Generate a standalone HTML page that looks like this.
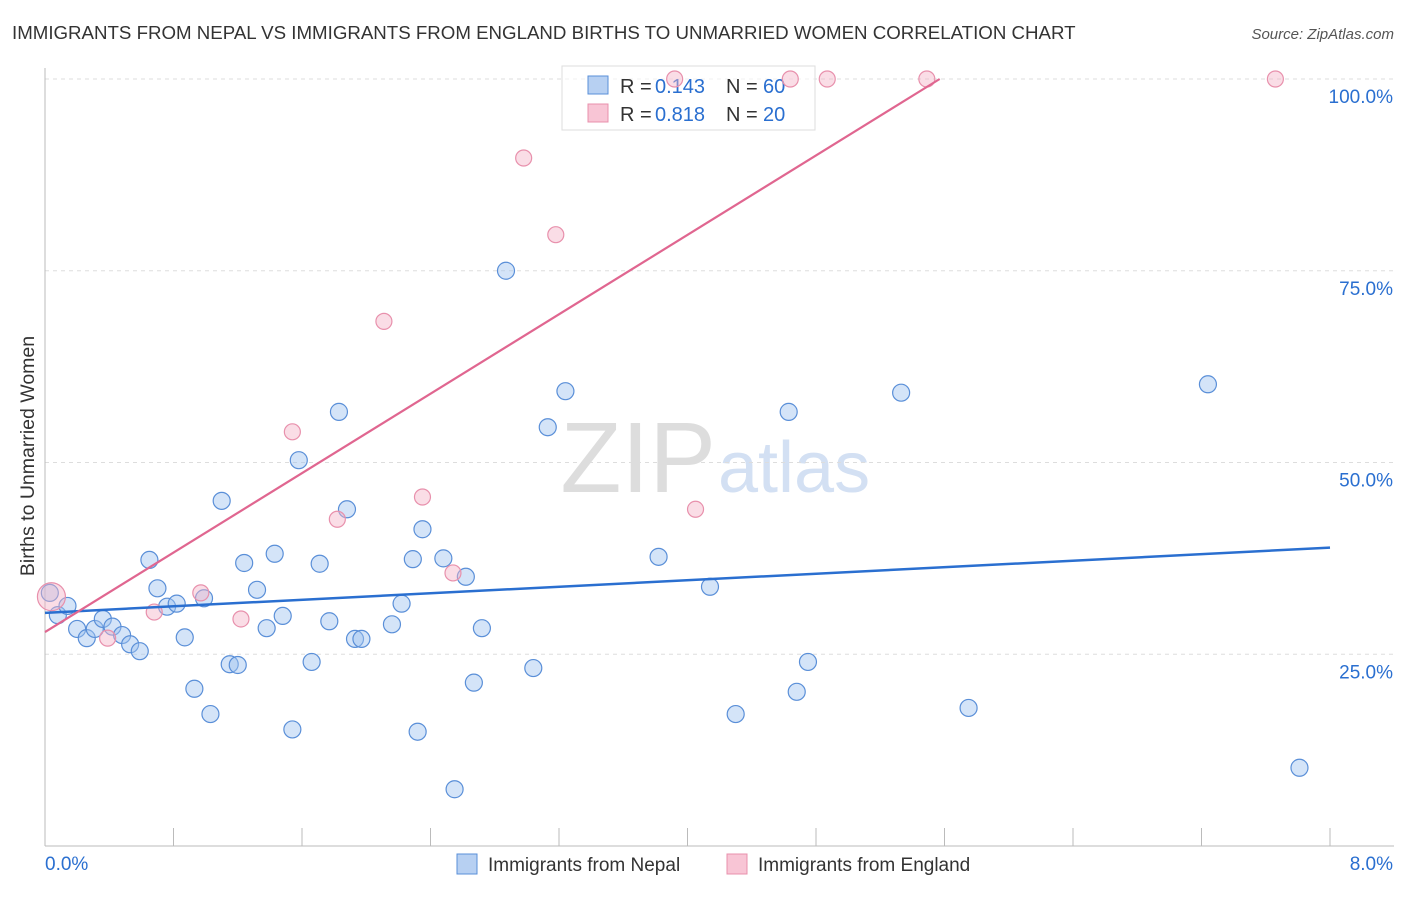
<!DOCTYPE html>
<html><head><meta charset="utf-8"><style>
body{margin:0;background:#fff;font-family:"Liberation Sans",sans-serif;}
svg text{font-family:"Liberation Sans",sans-serif;}
</style></head><body>
<svg id="chart" width="1406" height="892">
<text x="12" y="39" font-size="18.7" fill="#333">IMMIGRANTS FROM NEPAL VS IMMIGRANTS FROM ENGLAND BIRTHS TO UNMARRIED WOMEN CORRELATION CHART</text>
<text x="1394" y="39" font-size="15" fill="#555" font-style="italic" text-anchor="end">Source: ZipAtlas.com</text>
<text x="716" y="492" font-size="100" fill="#ddd" text-anchor="end" font-family="Liberation Serif">ZIP</text>
<text x="718" y="492" font-size="72" fill="#d3e0f3">atlas</text>
<text x="34" y="456" font-size="19.5" fill="#333" text-anchor="middle" transform="rotate(-90 34 456)">Births to Unmarried Women</text>
<g id="grid"></g>
<g>
<rect x="562" y="66" width="253" height="64" fill="rgba(255,255,255,0.6)" stroke="#ddd"/>
<rect x="588" y="76" width="20" height="18" fill="#b7d0f2" stroke="#5a8fd8"/>
<rect x="588" y="104" width="20" height="18" fill="#f8c5d5" stroke="#e890ac"/>
<text x="620" y="93" font-size="20" fill="#333">R =</text><text x="655" y="93" font-size="20" fill="#2a6fd0">0.143</text>
<text x="726" y="93" font-size="20" fill="#333">N =</text><text x="763" y="93" font-size="20" fill="#2a6fd0">60</text>
<text x="620" y="121" font-size="20" fill="#333">R =</text><text x="655" y="121" font-size="20" fill="#2a6fd0">0.818</text>
<text x="726" y="121" font-size="20" fill="#333">N =</text><text x="763" y="121" font-size="20" fill="#2a6fd0">20</text>
</g>
<g id="marks"></g>
<g>
<rect x="457" y="854" width="20" height="20" fill="#b7d0f2" stroke="#5a8fd8"/>
<text x="488" y="871" font-size="19" fill="#333">Immigrants from Nepal</text>
<rect x="727" y="854" width="20" height="20" fill="#f8c5d5" stroke="#e890ac"/>
<text x="758" y="871" font-size="19" fill="#333">Immigrants from England</text>
</g>
</svg>
<script>
const blueX=[0.03,0.08,0.14,0.2,0.26,0.31,0.36,0.42,0.48,0.53,0.59,0.65,0.70,0.76,0.82,0.87,0.93,0.99,1.03,1.10,1.15,1.20,1.24,1.32,1.38,1.43,1.48,1.54,1.58,1.66,1.71,1.77,1.83,1.88,1.93,1.97,2.16,2.22,2.29,2.32,2.35,2.48,2.55,2.62,2.67,2.72,2.87,3.04,3.13,3.24,3.82,4.14,4.30,4.63,4.68,4.75,5.33,5.75,7.24,7.81];
const blueY=[33.0,30.1,31.3,28.3,27.1,28.3,29.6,28.6,27.5,26.3,25.4,37.3,33.6,31.2,31.6,27.2,20.5,32.3,17.2,45.0,23.7,23.6,36.9,33.4,28.4,38.1,30.0,15.2,50.3,24.0,36.8,29.3,56.6,43.9,27.0,27.0,28.9,31.6,37.4,14.9,41.3,37.5,7.4,35.1,21.3,28.4,75.0,23.2,54.6,59.3,37.7,33.8,17.2,56.6,20.1,24.0,59.1,18.0,60.2,10.2];
const pinkX=[0.04,0.39,0.68,0.97,1.22,1.54,1.82,2.11,2.35,2.54,2.98,3.18,4.05,3.92,4.64,4.87,5.49,7.66];
const pinkY=[32.5,27.1,30.5,33.0,29.6,54.0,42.6,68.4,45.5,35.6,89.7,79.7,43.9,100,100,100,100,100];
const pinkR=[14,8,8,8,8,8,8,8,8,8,8,8,8,8,8,8,8,8];
const blueTrend=[30.4,38.9];
const pinkTrend=[27.9,100,5.57];
const yTicks=[25,50,75,100];
const yTickLabels=["25.0%","50.0%","75.0%","100.0%"];
const xTicks=[0,0.8,1.6,2.4,3.2,4.0,4.8,5.6,6.4,7.2,8.0];
const NS="http://www.w3.org/2000/svg";
const sx=v=>45+v/8*1285, sy=v=>846-v/100*767;
function mk(t,a,p){const e=document.createElementNS(NS,t);for(const k in a)e.setAttribute(k,a[k]);p.appendChild(e);return e;}
const g=document.getElementById('grid'), m=document.getElementById('marks');
yTicks.forEach((t,i)=>{
 const l=mk('line',{x1:45,x2:1394,y1:sy(t),y2:sy(t),stroke:'#ddd','stroke-dasharray':'4,4'},g);
 
 
 const tx=mk('text',{x:1393,y:sy(t)+24,'font-size':19,fill:'#2a6fd0','text-anchor':'end'},g);tx.textContent=yTickLabels[i];
 
 
});
mk('line',{x1:45,x2:45,y1:68,y2:846,stroke:'#bbb'},g);
mk('line',{x1:45,x2:1394,y1:846,y2:846,stroke:'#bbb'},g);
xTicks.forEach(t=>{const l=mk('line',{x1:sx(t),x2:sx(t),y1:828,y2:846,stroke:'#bbb'},g);
 
 });
let t0=mk('text',{x:45,y:870,'font-size':19,fill:'#2a6fd0'},g);t0.textContent='0.0%';


let t1=mk('text',{x:1393,y:870,'font-size':19,fill:'#2a6fd0','text-anchor':'end'},g);t1.textContent='8.0%';


blueX.forEach((x,i)=>{const c=mk('circle',{cx:sx(x),cy:sy(blueY[i]),r:8.5,fill:'rgba(160,195,240,0.45)',stroke:'#5a8fd8','stroke-width':1.2},m);
 
 });
pinkX.forEach((x,i)=>{const c=mk('circle',{cx:sx(x),cy:sy(pinkY[i]),r:pinkR[i],fill:'rgba(245,180,200,0.45)',stroke:'#e890ac','stroke-width':1.2},m);
 
 });
const bl=mk('line',{x1:sx(0),y1:sy(blueTrend[0]),x2:sx(8),y2:sy(blueTrend[1]),stroke:'#2a6fd0','stroke-width':2.5},m);


const pl=mk('line',{x1:sx(0),y1:sy(pinkTrend[0]),x2:sx(pinkTrend[2]),y2:sy(pinkTrend[1]),stroke:'#e06690','stroke-width':2.2},m);


</script>
</body></html>
